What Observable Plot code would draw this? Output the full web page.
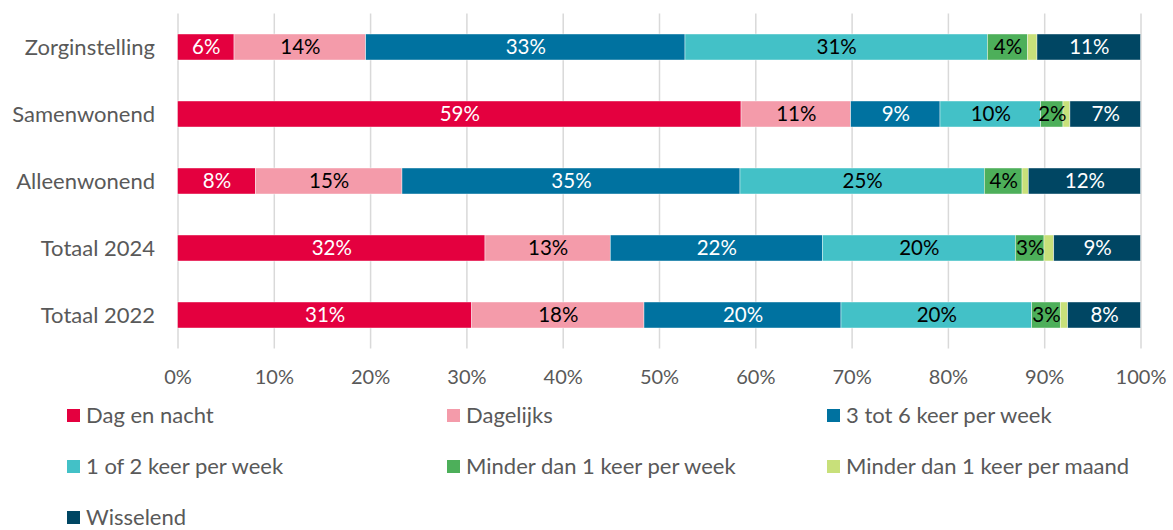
<!DOCTYPE html>
<html>
<head>
<meta charset="utf-8">
<script src="https://cdn.jsdelivr.net/npm/d3@7"></script>
<script src="https://cdn.jsdelivr.net/npm/@observablehq/plot@0.6"></script>
<style>
  body { margin: 0; background: #fff; font-family: Lato, "Open Sans", sans-serif; }
  #wrap { position: relative; width: 1173px; height: 530px; overflow: hidden; }
  #legend { position: absolute; left: 67px; top: 403px; display: grid;
    grid-template-columns: repeat(3, 380px); grid-auto-rows: 51px; }
  .item { display: flex; align-items: center; height: 24px; line-height: 24px; font-size: 22px; color: #595959; }
  .sw { width: 13px; height: 13px; margin-right: 6px; flex: none; }
</style>
</head>
<body>
<div id="wrap"><div id="chart"></div><div id="legend"></div></div>
<script>
const categories = ["Zorginstelling", "Samenwonend", "Alleenwonend", "Totaal 2024", "Totaal 2022"];
const seriesNames = ["Dag en nacht", "Dagelijks", "3 tot 6 keer per week", "1 of 2 keer per week",
  "Minder dan 1 keer per week", "Minder dan 1 keer per maand", "Wisselend"];
const seriesColors = ["#E4003F", "#F49BAA", "#0072A0", "#43C1C7", "#4DAF5A", "#C8E07A", "#004663"];
// values per series, in category order (percent)
const dagEnNacht   = [5.87, 58.52, 8.08, 31.93, 30.55];
const dagelijks    = [13.67, 11.38, 15.23, 13.01, 17.89];
const drieTotZes   = [33.16, 9.28, 35.10, 22.02, 20.46];
const eenOfTwee    = [31.40, 10.45, 25.37, 20.04, 19.80];
const minderWeek   = [4.18, 2.32, 3.92, 2.98, 2.97];
const minderMaand  = [0.97, 0.72, 0.65, 1.01, 0.77];
const wisselend    = [10.75, 7.33, 11.65, 9.01, 7.56];
const xTicks = [0, 10, 20, 30, 40, 50, 60, 70, 80, 90, 100];

const seriesValues = [dagEnNacht, dagelijks, drieTotZes, eenOfTwee, minderWeek, minderMaand, wisselend];
const whiteLabel = new Set(["Dag en nacht", "3 tot 6 keer per week", "Wisselend"]);
const noLabel = new Set(["Minder dan 1 keer per maand"]);

const data = [];
seriesNames.forEach((s, si) => categories.forEach((c, ci) =>
  data.push({cat: c, series: s, value: seriesValues[si][ci]})));

const label = d => Math.round(d.value) + "%";
const textOpts = (pred) => Plot.stackX({
  x: "value", y: "cat", z: "series", order: seriesNames,
  text: d => (!noLabel.has(d.series) && pred(d)) ? label(d) : ""
});

const chart = Plot.plot({
  width: 1173, height: 400,
  marginLeft: 177.5, marginRight: 32.5, marginTop: 13.5, marginBottom: 51.5,
  style: {fontFamily: "Lato, 'Open Sans', sans-serif", background: "#fff"},
  x: {domain: [0, 100], ticks: xTicks, tickFormat: d => d + "%", label: null},
  y: {domain: categories, paddingInner: 0.612, paddingOuter: 0.306, label: null},
  color: {domain: seriesNames, range: seriesColors},
  marks: [
    Plot.ruleX(xTicks, {stroke: "#d9d9d9", strokeWidth: 1.5}),
    Plot.barX(data, Plot.stackX({x: "value", y: "cat", fill: "series", order: seriesNames,
      stroke: "#fff", strokeWidth: 0.6, strokeOpacity: 0.7})),
    Plot.text(data, {...textOpts(d => whiteLabel.has(d.series)), fill: "#fff", fontSize: 20.5}),
    Plot.text(data, {...textOpts(d => !whiteLabel.has(d.series)), fill: "#000", fontSize: 20.5}),
    Plot.axisX(xTicks, {tickSize: 0, tickPadding: 21, fontSize: 20, color: "#595959",
      tickFormat: d => d + "%", label: null}),
    Plot.axisY({tickSize: 0, tickPadding: 23, fontSize: 22, color: "#595959", label: null})
  ]
});
document.getElementById("chart").appendChild(chart);

const legend = document.getElementById("legend");
seriesNames.forEach((s, i) => {
  const it = document.createElement("div");
  it.className = "item";
  const sw = document.createElement("span");
  sw.className = "sw";
  sw.style.background = seriesColors[i];
  it.appendChild(sw);
  it.appendChild(document.createTextNode(s));
  legend.appendChild(it);
});
</script>
</body>
</html>
